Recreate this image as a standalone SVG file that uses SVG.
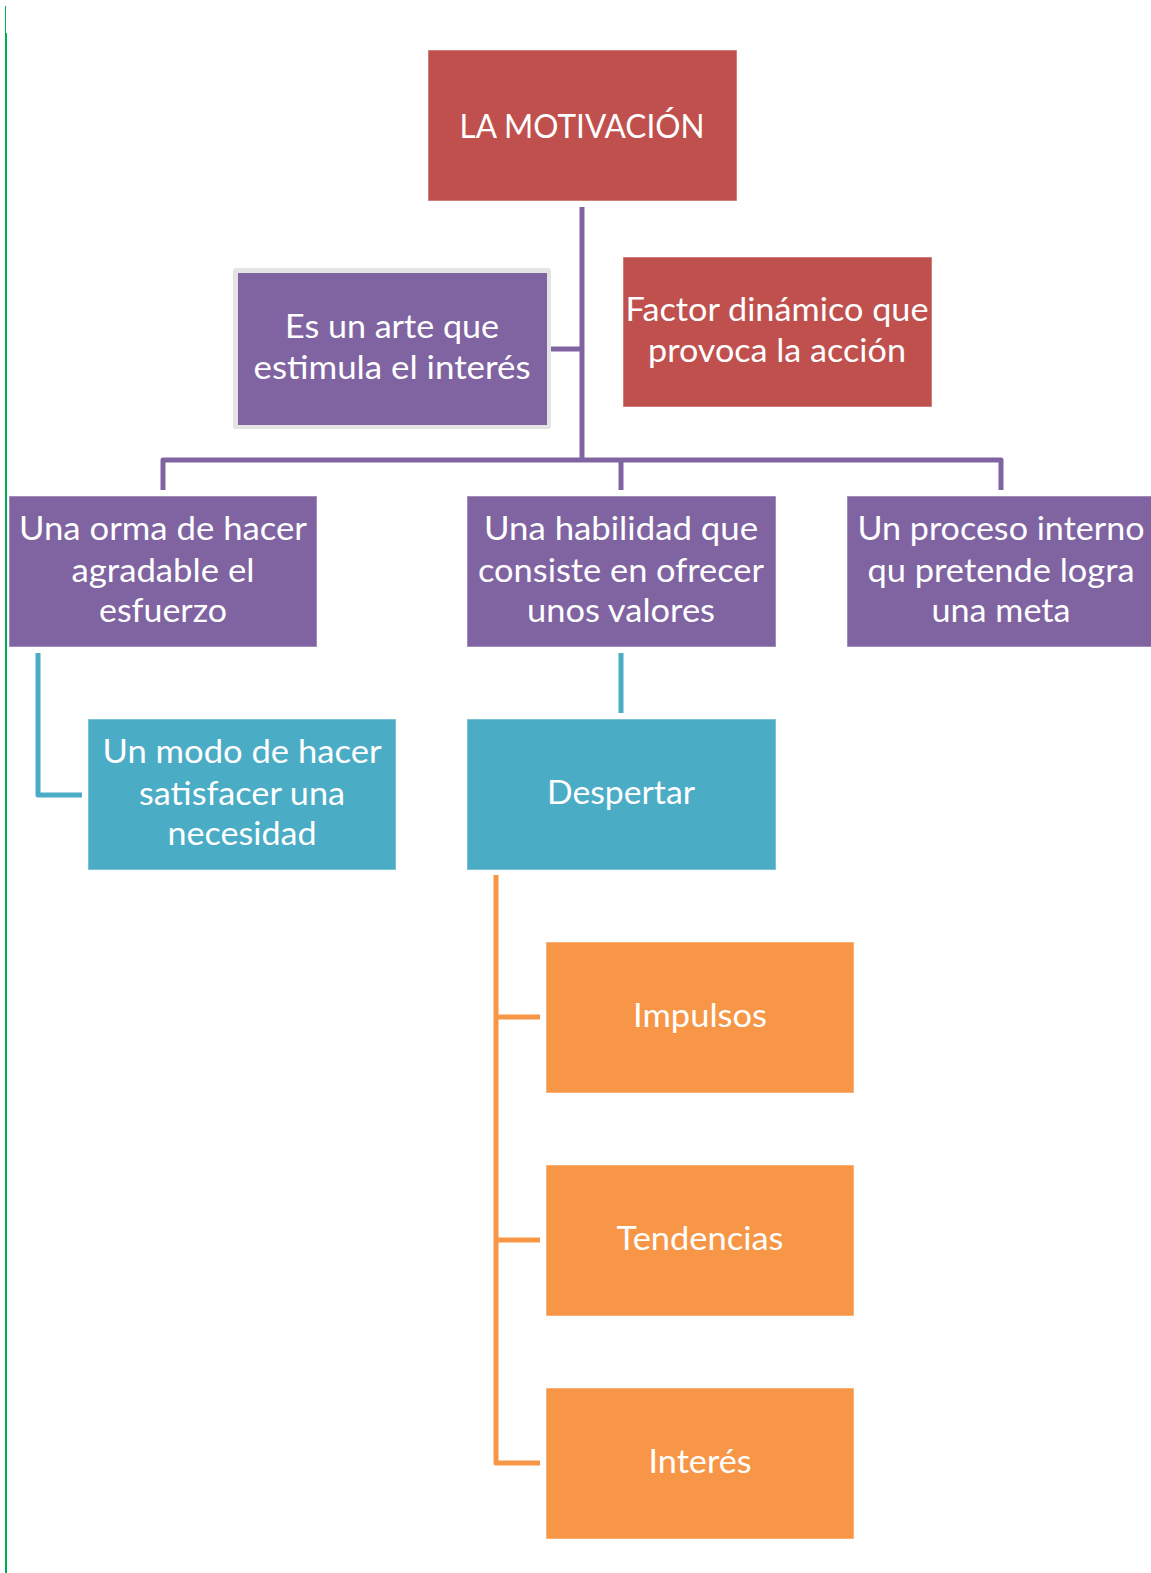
<svg xmlns="http://www.w3.org/2000/svg" width="1151" height="1573" viewBox="0 0 1151 1573">
<style>
.box{stroke:#ffffff;stroke-opacity:0.5;stroke-width:1}
.red{fill:#C0504D}.pur{fill:#8064A2}.teal{fill:#4BACC6}.org{fill:#F79646}
text{font-family:Lato,"Open Sans","Liberation Sans",sans-serif;font-size:32px;fill:#ffffff;text-anchor:middle}
.c{fill:none;stroke-width:5;stroke-linejoin:round;stroke-linecap:butt}
.cp{stroke:#8064A2}.ct{stroke:#4BACC6}.co{stroke:#F79646}
</style>
<rect width="1151" height="1573" fill="#ffffff"/>
<line x1="5.5" y1="6" x2="5.5" y2="33" stroke="#00B050" stroke-width="1"/>
<line x1="6" y1="33" x2="6" y2="1573" stroke="#00B050" stroke-width="2"/>
<g id="connectors">
<path class="c cp" d="M582,207 V460 M551,349 H582 M163,490 V460 H1001 V490 M621,460 V490"/>
<path class="c ct" d="M38,653 V795 H82 M621,653 V713"/>
<path class="c co" d="M496,875 V1463 H540 M496,1017 H540 M496,1240 H540"/>
</g>
<g id="n-root"><rect class="box red" x="428" y="50" width="309" height="151"/><text x="582" y="138" textLength="245" lengthAdjust="spacingAndGlyphs">LA MOTIVACIÓN</text></g>
<g id="n-arte"><rect x="233" y="268" width="318" height="161" rx="3" fill="#E4E4E4"/><rect class="pur" x="238" y="273" width="309" height="152"/><text x="392" y="338" textLength="214" lengthAdjust="spacingAndGlyphs">Es un arte que</text><text x="392" y="379" textLength="277" lengthAdjust="spacingAndGlyphs">estimula el interés</text></g>
<g id="n-factor"><rect class="box red" x="623" y="257" width="309" height="150"/><text x="777" y="321" textLength="303" lengthAdjust="spacingAndGlyphs">Factor dinámico que</text><text x="777" y="362" textLength="258" lengthAdjust="spacingAndGlyphs">provoca la acción</text></g>
<g id="n-orma"><rect class="box pur" x="9" y="496" width="308" height="151"/><text x="163" y="540" textLength="288" lengthAdjust="spacingAndGlyphs">Una orma de hacer</text><text x="163" y="582" textLength="183" lengthAdjust="spacingAndGlyphs">agradable el</text><text x="163" y="622" textLength="128" lengthAdjust="spacingAndGlyphs">esfuerzo</text></g>
<g id="n-habilidad"><rect class="box pur" x="467" y="496" width="309" height="151"/><text x="621" y="540" textLength="274" lengthAdjust="spacingAndGlyphs">Una habilidad que</text><text x="621" y="582" textLength="286" lengthAdjust="spacingAndGlyphs">consiste en ofrecer</text><text x="621" y="622" textLength="188" lengthAdjust="spacingAndGlyphs">unos valores</text></g>
<g id="n-proceso"><rect class="box pur" x="847" y="496" width="309" height="151"/><text x="1001" y="540" textLength="287" lengthAdjust="spacingAndGlyphs">Un proceso interno</text><text x="1001" y="582" textLength="267" lengthAdjust="spacingAndGlyphs">qu pretende logra</text><text x="1001" y="622" textLength="139" lengthAdjust="spacingAndGlyphs">una meta</text></g>
<g id="n-modo"><rect class="box teal" x="88" y="719" width="308" height="151"/><text x="242" y="763" textLength="279" lengthAdjust="spacingAndGlyphs">Un modo de hacer</text><text x="242" y="805" textLength="206" lengthAdjust="spacingAndGlyphs">satisfacer una</text><text x="242" y="845" textLength="149" lengthAdjust="spacingAndGlyphs">necesidad</text></g>
<g id="n-despertar"><rect class="box teal" x="467" y="719" width="309" height="151"/><text x="621" y="804" textLength="148" lengthAdjust="spacingAndGlyphs">Despertar</text></g>
<g id="n-impulsos"><rect class="box org" x="546" y="942" width="308" height="151"/><text x="700" y="1027" textLength="134" lengthAdjust="spacingAndGlyphs">Impulsos</text></g>
<g id="n-tendencias"><rect class="box org" x="546" y="1165" width="308" height="151"/><text x="700" y="1250" textLength="167" lengthAdjust="spacingAndGlyphs">Tendencias</text></g>
<g id="n-interes"><rect class="box org" x="546" y="1388" width="308" height="151"/><text x="700" y="1473" textLength="103" lengthAdjust="spacingAndGlyphs">Interés</text></g>
</svg>
